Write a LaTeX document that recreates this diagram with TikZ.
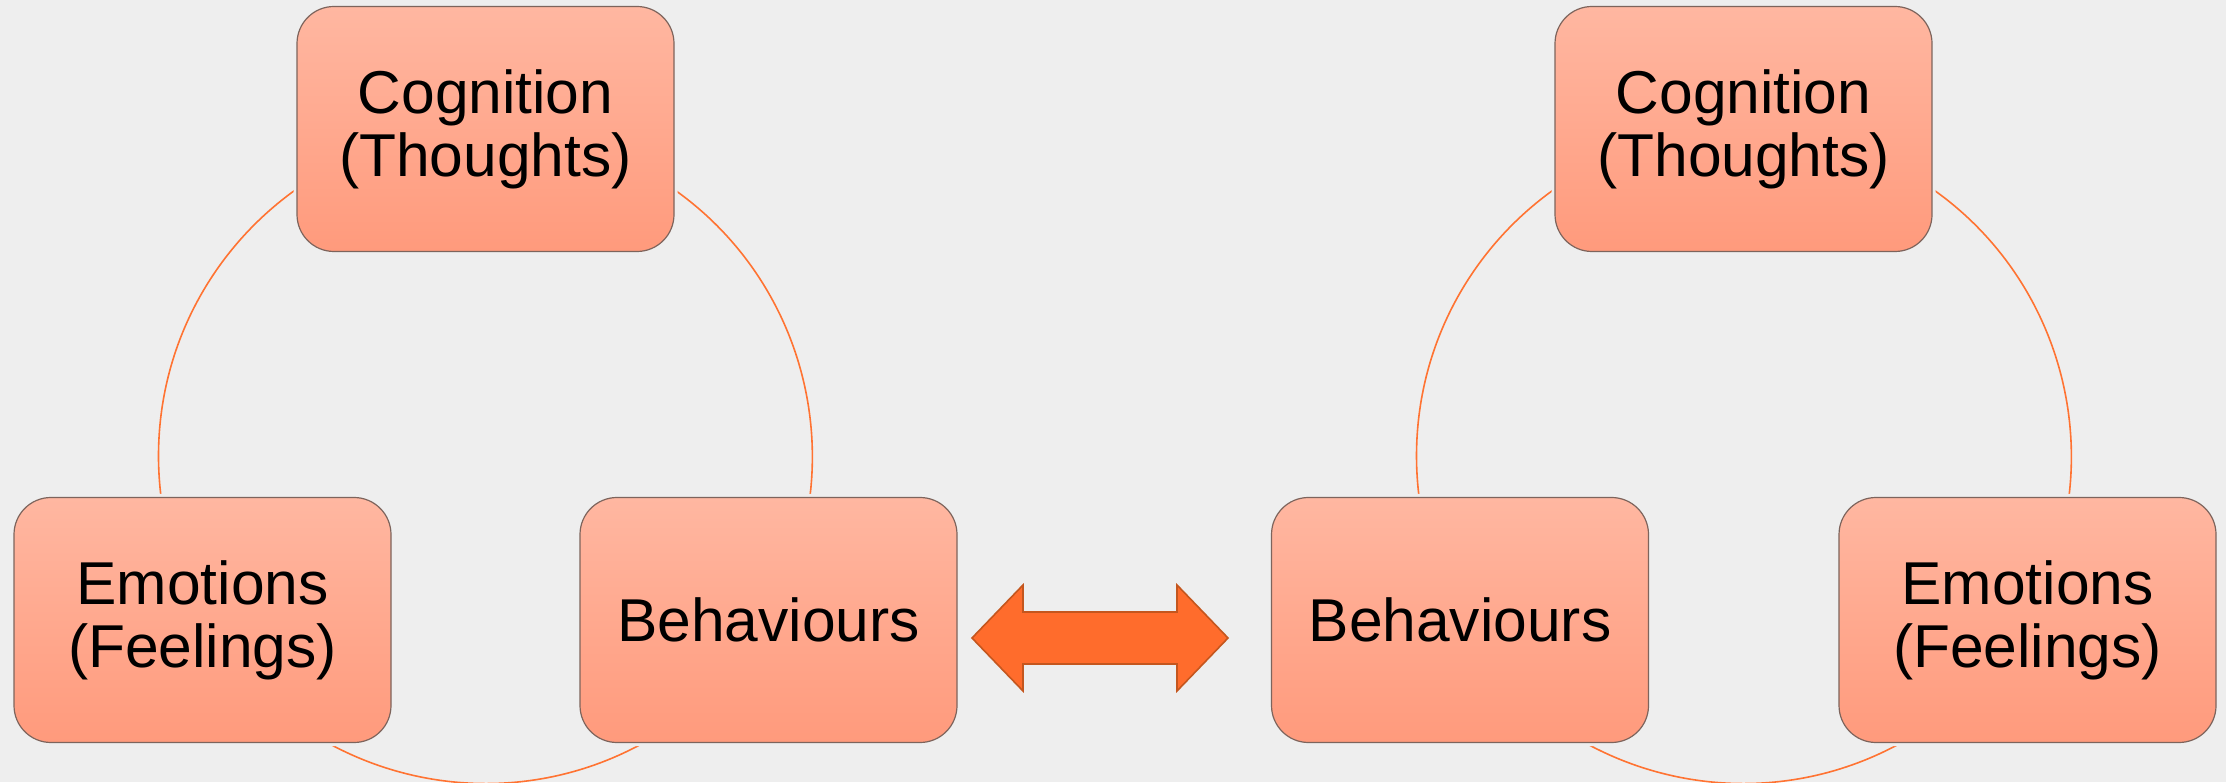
\documentclass[tikz,border=0pt]{standalone}
\usepackage{fontspec}
\setmainfont{Liberation Sans}
\pgfdeclarelayer{back}
\pgfdeclarelayer{arcs}
\pgfsetlayers{back,arcs,main}
\definecolor{bgc}{HTML}{EEEEEE}
\definecolor{boxtop}{RGB}{255,183,161}
\definecolor{boxbot}{RGB}{255,154,124}
\definecolor{boxline}{RGB}{125,100,92}
\definecolor{cycline}{HTML}{FF7332}
\definecolor{arrfill}{HTML}{FF6C2C}
\definecolor{arrline}{HTML}{C4561E}
\tikzset{
  stepbox/.style={rectangle, rounded corners=37pt, minimum width=377pt, minimum height=245pt,
    top color=boxtop, bottom color=boxbot, draw=boxline, line width=1.2pt,
    preaction={draw=bgc, line width=7pt},
    align=center, inner sep=0pt, font=\fontsize{60.5}{63}\selectfont},
  cyc/.style={draw=cycline, line width=1.6pt},
  bigarrow/.style={fill=arrfill, draw=arrline, line width=1.6pt, line join=miter}
}
\begin{document}
\begin{tikzpicture}[x=1pt,y=1pt]
\begin{pgfonlayer}{back}
  \fill[bgc] (0,0) rectangle (2226,782);
\end{pgfonlayer}
\useasboundingbox (0,0) rectangle (2226,782);
% left cycle
\node[stepbox] (t1) at (485.5,653) {Cognition\\(Thoughts)};
\node[stepbox] (e1) at (202.5,162) {Emotions\\(Feelings)};
\node[stepbox] (b1) at (768.5,162) {Behaviours};
% right cycle
\node[stepbox] (t2) at (1743.5,653) {Cognition\\(Thoughts)};
\node[stepbox] (b2) at (1460,162) {Behaviours};
\node[stepbox] (e2) at (2027.5,162) {Emotions\\(Feelings)};
\begin{pgfonlayer}{arcs}
  \draw[cyc] (t1.center) arc[start angle=90, end angle=210, radius=327pt];
  \draw[cyc] (e1.center) arc[start angle=210, end angle=330, radius=327pt];
  \draw[cyc] (b1.center) arc[start angle=-30, end angle=90, radius=327pt];
  \draw[cyc] (t2.center) arc[start angle=90, end angle=210, radius=327pt];
  \draw[cyc] (b2.center) arc[start angle=210, end angle=330, radius=327pt];
  \draw[cyc] (e2.center) arc[start angle=-30, end angle=90, radius=327pt];
\end{pgfonlayer}
% double arrow between the cycles
\draw[bigarrow] (972,144) -- (1023,197) -- (1023,170) -- (1177,170) -- (1177,197)
  -- (1228,144) -- (1177,91) -- (1177,118) -- (1023,118) -- (1023,91) -- cycle;
\end{tikzpicture}
\end{document}
